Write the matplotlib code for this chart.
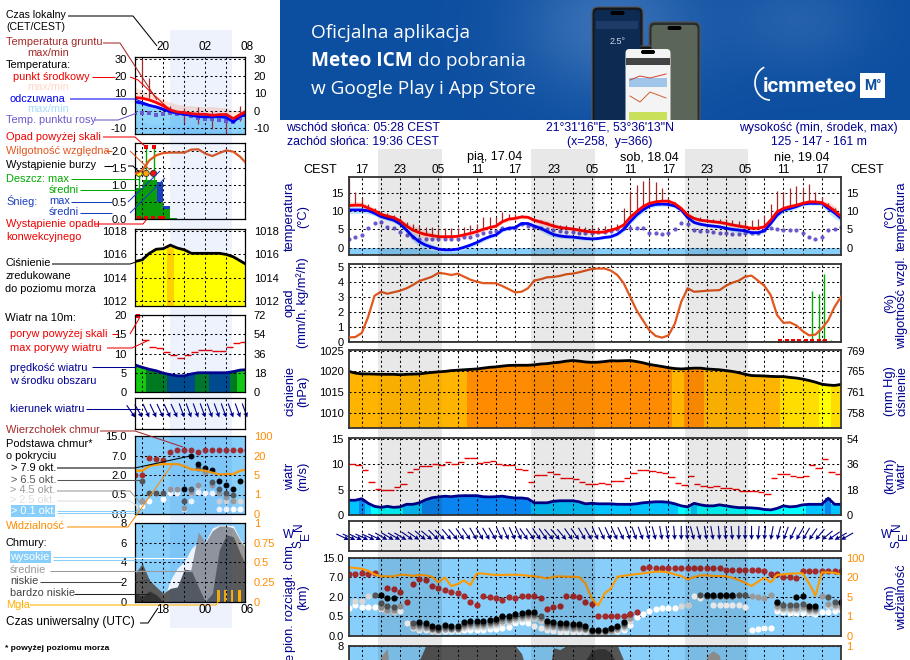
#!/usr/bin/env python3
"""Meteogram page: legend column on the left, 78 h forecast on the right."""
import numpy as np
import matplotlib
matplotlib.use("Agg")
import matplotlib.pyplot as plt
from matplotlib.patches import Arc, FancyBboxPatch, Rectangle

plt.rcParams["font.family"] = ["Liberation Sans", "DejaVu Sans"]
W, H = 910, 660
n = np.nan

# ---- main forecast, hourly from 15:00 CEST on 16.04
temp_mid = [11.5,11.6,11.6,10.8,10.1,9.1,8.6,8.2,7.3,5.9,4.8,4.1,3.6,3.3,3.0,3.0,3.0,3.1,3.5,3.9,
            4.4,5.0,5.5,5.9,7.1,7.8,8.0,8.4,8.3,7.5,7.0,6.5,5.9,5.5,5.3,5.1,4.8,4.5,4.3,4.2,
            4.3,4.8,5.3,6.2,8.3,9.8,11.2,12.1,12.5,12.7,12.7,12.0,10.7,8.9,8.0,7.5,7.3,7.1,6.9,6.6,
            6.2,5.9,5.6,5.3,5.3,5.7,7.5,9.8,10.7,11.2,11.6,12.1,12.5,12.5,12.3,11.3,10.1,8.5]
temp_felt = [10.3,10.3,10.3,10.1,9.4,8.5,8.0,7.5,6.5,4.8,3.0,1.6,0.7,0.1,-0.4,-0.6,-0.6,-0.4,0.1,0.7,
             1.4,2.3,3.0,3.5,4.8,5.3,5.5,6.6,6.6,5.9,5.3,4.4,3.6,3.2,3.0,2.9,2.7,2.5,2.4,2.5,
             2.8,3.0,3.7,5.0,7.1,8.9,10.3,11.4,11.8,11.9,11.8,11.4,10.3,8.2,6.9,6.4,6.1,5.9,5.7,5.3,
             5.0,4.8,4.6,4.1,4.1,4.6,6.6,8.9,10.3,10.7,11.2,11.9,12.1,12.1,12.1,10.7,9.5,8.0]
temp_dew = [2.5,2.8,3.5,5.3,6.8,6.9,5.7,5.3,4.4,3.5,2.8,2.5,2.4,2.3,2.4,2.4,2.4,2.5,2.8,2.8,
            3.5,3.9,4.4,4.6,5.3,5.3,5.5,6.6,5.9,5.7,5.3,5.0,4.8,4.6,4.4,4.4,4.1,4.1,3.9,4.2,
            4.3,4.5,5.1,5.3,5.3,5.3,5.3,4.1,3.9,3.6,4.1,5.1,6.8,6.5,4.8,4.6,4.5,4.3,4.1,3.9,
            3.7,3.7,3.9,3.9,4.1,4.8,5.3,5.0,4.8,4.8,4.8,3.9,3.0,2.5,3.0,4.8,5.0,5.7]
temp_ground = [19,15.3,13.5,12,10.8,10,9.5,9,8,7,6.4,5.9,5.7,5.6,5.5,5.5,5.5,5.5,5.7,6.2,
               6.5,8.3,8.3,8.3,9.8,9.3,9.3,8.9,8.5,8.0,7.5,7.0,6.7,6.3,6.1,6,5.8,5.7,5.6,5.6,
               5.8,6,6.5,10.7,15.5,17,18.2,18.5,17.8,16.4,13.5,12.5,11,9.5,8.5,8.3,8,7.8,7.8,7.7,
               7.5,7.3,7,7.5,7.7,8.9,12,15.5,15.3,16.2,16.8,16.2,17.3,15.3,13.9,12.1,10.7,9.8]
temp_spread = [1.0,1.0,0.9,0.8,0.7,0.6,0.6,0.6,0.7,0.9,1.2,1.3,1.0,0.8,0.6,0.5,0.5,0.5,0.6,0.7,
               0.7,0.6,0.5,0.5,0.5,0.5,0.4,0.5,0.5,0.6,0.8,0.9,0.8,0.6,0.5,0.5,0.5,0.5,0.4,0.4,
               0.4,0.4,0.5,0.6,0.7,0.8,0.8,0.7,0.6,0.6,0.5,0.5,0.6,0.6,0.5,0.4,0.4,0.4,0.4,0.5,
               0.6,0.7,0.7,0.7,0.6,0.5,0.5,0.7,0.8,0.7,0.6,0.5,0.5,0.5,0.6,1.2,1.4,1.0]
rh = [53,53.3,56,66.7,80.7,83.3,82,83,84,85.6,87.8,90.4,91.8,93.3,95.8,95.3,94.4,95.3,93.3,91.3,
      90,89,89,88.9,87.1,85,82.9,83.3,85.6,90.7,91.6,92.9,93.1,93.8,94.9,95.3,96.2,97.3,98.4,98.7,
      98.7,97.3,94.4,88.9,80,71.1,64.4,57.8,54,52.9,54.4,62.2,76.7,85.6,83.3,83.6,84,84.2,84.4,87.3,
      89.3,90.7,93.3,94,90.7,87.3,81.1,67.8,62.7,63,61,57.3,54.4,54.9,58.9,64.4,73.3,80]
rain_hours = [71.5, 72.4, 73.5, 74.4, 75.5]
rain_max = [0.2, 3.4, 3.15, 4.5, 0.15]
conv_hours = [67.5, 68.5, 69.5, 70.5, 71.5, 72.5, 73.5, 74.5]
press = [1020,1019.6,1019.4,1019.4,1019.35,1019.3,1019.3,1019.3,1019.2,1019.3,1019.35,1019.4,1019.6,1019.76,1019.9,1020,1020.2,1020.3,1020.4,1020.5,
         1020.6,1020.8,1021,1021.1,1021.3,1021.45,1021.5,1021.5,1021.5,1021.6,1021.8,1021.9,1022.1,1022.25,1022.5,1022.65,1022.5,1022.3,1022.2,1022.25,
         1022.4,1022.6,1022.55,1022.6,1022.65,1022.4,1022.1,1021.7,1021.45,1021.2,1020.9,1020.7,1020.6,1020.7,1020.8,1020.8,1020.6,1020.5,1020.4,1020.2,
         1020,1019.7,1019.3,1019,1018.95,1018.9,1018.8,1018.75,1018.75,1018.55,1018.4,1018.15,1017.8,1017.4,1016.9,1016.7,1016.6,1016.85]
# colour class of each pressure column: 0 yellow, 1 gold, 2 amber, 3 orange
press_class = [2]*19 + [3]*32 + [2]*2 + [3]*3 + [2]*12 + [1]*6 + [0]*2 + [1]*2
wind = [2.9,2.9,3.2,2.3,1.7,1.5,1.7,1.5,1.6,2.1,2.1,2.4,3,3.4,3.55,3.7,3.6,3.75,3.8,3.8,
        3.8,3.6,3.55,3.6,3.7,3.5,3.35,3.35,3.2,2.4,2.4,2.4,2.7,2.8,2.8,2.8,2.6,2.2,2.3,2.2,
        2.2,2.2,2.1,2.1,2.1,2.2,2.4,2.5,2.6,2.6,2.5,2.2,1.8,1.6,2.3,2,1.8,1.8,2,1.8,
        1.6,1.45,1.45,1.4,1.3,1.1,1,1.3,1.8,1.6,1.7,2,2.1,2.1,2.1,3.3,2.1,2.1]
gust = [10,9.8,8.8,6.5,5.1,4.9,4.9,5.5,6,8.4,9,9.6,9.6,10,9.8,10.4,10.1,10.5,11.2,11.2,
        10.2,10.5,10.6,10.1,9.8,9.8,9,8.8,6.5,7.9,7.8,8.4,8,7.2,7.2,7,6.4,6.1,6.1,6.3,
        6.1,6.7,6.7,7.3,8.2,8.8,8.8,8.6,8.4,8.2,7.4,6.3,5.9,7.6,6.1,5.7,5.5,5.7,5.3,5.3,
        5.1,4.8,4.7,4.7,4.5,4.1,7.2,8,8,7.6,7.4,7.6,9.8,9.2,11,8.5,8]
wind_from = [295,295,295,295,295,295,300,300,300,300,305,305,310,310,315,315,320,320,325,325,
             330,330,330,330,335,335,335,335,325,325,325,325,320,320,320,325,325,330,330,335,
             335,335,335,335,340,340,340,345,345,350,350,355,0,355,345,345,350,350,355,355,
             355,0,0,0,5,5,10,15,20,25,30,30,35,40,50,55,60,60]
# cloud base and visibility use the panel's stepped scale, 1 unit per labelled level
base_levels = ["0.0", "0.5", "2.0", "7.0", "15.0"]
vis_levels = ["0", "1", "5", "20", "100"]
cloud_top = [3.16,3.18,3.23,3.18,3.21,n,2.44,2.39,2.27,1.72,2.68,2.90,2.85,2.58,2.44,2.34,2.25,2.22,2.04,1.72,
             1.56,2.04,2.01,1.92,1.82,2.01,1.92,2.04,2.04,2.03,1.92,1.37,1.46,1.55,2.04,2.04,2.01,1.72,1.63,1.03,
             1.03,1.01,1.01,1.03,1.10,1.20,3.47,3.54,3.51,3.51,3.51,3.47,3.51,3.51,3.51,3.51,3.51,3.47,3.47,3.40,
             3.40,3.40,3.40,3.40,3.37,3.33,3.16,3.16,3.04,3.02,2.96,3.33,3.33,3.33,3.33,3.33,3.33,3.33]
base_79 = [n,n,n,n,n,2.10,1.96,1.96,n,n,n,.72,.64,.50,.43,.53,.48,.48,.69,.76,
           .76,.76,.82,.86,1.0,1.03,1.1,1.19,1.2,1.2,n,.76,.72,.64,.64,.60,.60,.52,.31,.29,
           .29,.38,.52,.72,n,n,n,n,n,n,n,n,n,n,n,n,2.1,2.1,2.1,2.1,
           2.1,n,n,n,n,n,n,1.75,n,n,1.98,2.05,1.53,1.51,n,n,n,1.72]
base_65 = [n,n,n,n,2.10,1.67,1.55,1.50,n,n,.64,.62,.55,.42,.36,.44,.40,.40,.60,.66,
           .66,.66,.72,.76,.90,.93,1.0,1.08,1.10,1.10,1.03,.66,.62,.55,.55,.50,.50,.42,.25,.24,
           .24,.32,.44,.62,1.1,n,n,n,n,n,n,n,n,n,n,2.1,2.05,2.05,2.05,2.05,
           2.05,2.1,2.1,n,n,n,n,1.67,1.6,1.6,1.6,1.65,1.45,1.42,n,2.0,1.75,1.68]
base_45 = [n,n,n,n,n,1.5,1.35,1.35,1.55,n,.5,.52,.45,.36,.30,.36,.33,.33,.5,.55,
           .55,.56,.62,.66,.78,.82,.9,.98,1.0,1.0,.9,.56,.52,.46,.46,.40,.40,.33,.2,.2,
           .2,.25,.36,.5,.9,n,n,n,n,n,n,n,n,n,n,n,n,n,n,n,
           n,n,n,2.05,2.0,1.95,2.08,1.55,1.45,1.45,1.45,1.5,1.3,1.3,2.05,1.65,1.6,1.55]
base_25 = [n,1.8,1.8,2.04,n,1.45,1.25,1.2,n,n,.44,.42,.38,.30,.26,.30,.28,.28,.42,.46,
           .46,.46,.52,.56,.68,.72,.8,.88,.9,.85,.75,.46,.44,.38,.38,.34,.34,.28,.2,.2,
           .2,.22,.3,.42,.75,n,n,n,n,n,n,n,1.55,1.6,n,n,n,n,n,n,
           n,n,n,n,n,n,n,1.45,1.35,1.35,1.35,1.4,1.22,1.22,n,1.55,1.5,1.45]
base_01 = [1.41,1.58,1.49,1.49,1.49,1.37,1.36,1.32,1.27,.64,.38,.29,.27,.24,.21,.22,.22,.22,.27,.29,
           .29,.31,.33,.34,.41,.46,.64,.69,.64,.50,.41,.29,.24,.21,.21,.21,.21,.17,.22,.22,
           .22,.24,.26,.29,.55,.98,1.12,1.27,1.37,1.41,1.41,1.41,n,1.58,2.04,1.96,n,1.6,1.6,1.6,
           1.6,1.6,1.49,.29,.34,.38,.41,1.27,1.2,1.15,1.15,1.15,1.15,1.12,1.2,1.24,1.27,1.32]
visibility = [3.52,3.49,3.45,3.35,3.16,3.06,3.06,3.06,3.14,3.13,3.08,3.13,3.11,3.04,2.75,3.0,2.56,2.66,2.85,2.61,
              3.21,3.2,3.16,3.13,3.13,3.14,3.14,3.13,3.09,3.06,3.02,2.94,3.04,3.06,3.04,3.04,3.02,2.7,1.92,1.55,
              2.18,2.44,3.04,3.09,3.13,3.18,3.21,3.26,3.3,3.3,3.26,3.16,3.08,2.9,3.02,3.11,3.11,3.08,3.08,3.06,
              2.99,2.87,2.73,2.56,2.78,2.99,2.75,3.13,3.16,3.2,3.21,3.21,2.7,2.06,3.26,3.26,3.24,3.16]
mid_hours = [4, 5, 6, 7, 55, 56, 57, 58, 59, 60, 61]
mid_cloud = [0, 6.9, 7.7, 0, 0, 7.0, 7.5, 7.0, 0, 6.6, 0]
low_hours = [10, 11, 12, 26, 27, 28, 30, 31, 32, 33, 34, 42, 43, 44]
low_cloud = [0, 6.5, 8, 8, 7.2, 5, 0, 4, 7.8, 7.6, 8, 8, 6.5, 0]
vlow_hours = [36, 37, 38, 39, 40, 41, 42, 43]
vlow_cloud = [0, 6.5, 7.5, 7.7, 7.7, 7.3, 6, 0]

hours = np.arange(len(temp_mid))
night_bands = [(378.3, 441.7), (531, 595), (685, 747.7)]
hour_ticks = [2, 5, 8, 11, 14, 17, 20, 23, 26, 29, 32, 35, 38, 41, 44, 47, 50, 53, 56, 59, 62, 65, 68, 71, 74, 77]
hour_labels = ["17", "", "23", "", "05", "", "11", "", "17", "", "23", "", "05", "", "11", "", "17", "", "23", "", "05", "", "11", "", "17", ""]

# ---- legend column, hourly from 16:00
leg_hours = np.arange(17)
leg_mid = [7.6,7.3,6.3,4.8,2.9,0.6,-0.6,-1,-1.5,-1.9,-1.9,-2.5,-2.1,-2,-4.4,-2,0]
leg_felt = [5.2,4.4,3.2,2.3,1,-0.4,-1.3,-1.9,-2.5,-3.2,-3.4,-3.4,-3.2,-3.8,-6.3,-2.9,-2.3]
leg_mid_max = [13.4,11.5,9.6,8.6,6.7,4.8,3.8,3,3,2.5,2.5,2.5,2,2,0,0,2]
leg_felt_min = [-5,-6,-7,-8,-8,-8,-9,-9,-8,-10,-10,-11,-11,-11,-13,-11,-8]
leg_dew = [-1,-1,-1.4,-2.1,-2,-1,-1.5,-2,-3,-4,-4.5,-4.6,-5,-5.5,-6.5,-4,-3]
leg_ground_hi = [n,30,19,n,n,2.9,n,1.9,n,2,n,0,n,-2,n,2.9,n]
leg_ground_lo = [n,15,7.6,n,n,-2,n,-6.7,n,-7.6,n,-10.5,n,-12.4,n,-5.7,n]
leg_rh = [80.6,82.8,89.5,92.9,94.4,94.7,94.7,94.7,96.7,96.9,94,92.4,94.4,96.2,95.3,91.8,86.8]
leg_bar_left = [0, 1.15, 3.05, 4.0, 5.0]
leg_bar_width = [1.15, 1.9, 0.95, 1.0, 1.0]
leg_rain = [0.93, 1.15, 0.5, 0.31, 0.03]
leg_snow = [0.93, 1.15, 1.08, 0.40, 0.03]
leg_press = [1015.4,1015.55,1016.1,1016.45,1016.5,1016.8,1016.55,1016.4,1016.1,1016.1,1016.1,1016.1,1016.1,1016,1015.8,1015.45,1015.1]
leg_wind = [7,6.4,5.9,5.5,4.9,4.5,4.2,4.2,4.7,5,5,5,5,5,5.3,5.7,5.8]
leg_wind_class = [2,2,1,1,1,0,0,0,0,1,1,0,0,0,1,2,2]
leg_gust_hours = [1,2,3,4,5,6,7,8,9,10,11,12,13,14,15]
leg_gust = [13.5,11.8,11.3,10.5,9.5,8.8,9.7,10.5,10.8,10.8,10.6,10.6,11.7,12.7,12.9]
leg_wind_from = [325,330,335,335,335,335,335,340,340,340,340,340,340,340,340,340,340]
leg_top = [2.0,2.0,2.85,2.82,2.77,3.2,3.3,3.3,3.3,3.2,3.3,3.3,3.3,3.3,3.3,3.3,3.3]
leg_79 = [n,n,n,n,n,n,n,1.26,2.97,2.55,2.37,2.25,1.69,1.48,1.26,1.69,n]
leg_65 = [n,1.7,1.1,1.1,1.1,n,n,.67,1.26,2.34,n,1.65,1.26,1.1,.97,n,n]
leg_45 = [n,.68,n,n,n,1.26,1.26,.3,1.15,1.48,2.17,1.48,1.1,.88,.68,n,1.65]
leg_25 = [.4,n,n,n,n,1.26,1.26,n,1.1,1.4,n,n,.68,.68,.68,.68,n]
leg_01 = [n,.4,.68,n,.75,1.1,1.1,.24,.68,1.15,1.1,1.1,.26,.24,.24,.24,n]
leg_vis = [2.22,2.22,2.46,2.53,2.56,2.56,2.56,2.46,2.29,2.26,2.22,2.12,2.03,2.05,2.05,2.22,2.29]
leg_high = [0,0,0,0,0,2.2,3.4,4.1,5.4,6.1,6.1,7.5,7.8,7.8,7.7,6.3,5.5]
leg_medium = [0,0,0,0,0,0,0,0,3.5,7.1,6.0,7.2,7.7,7.7,7.5,6.2,5.3]
leg_low = [2.9,3.9,2.2,1.5,0.85,1.36,1.5,3.3,3.2,1.5,0,0.85,5.3,6.8,6.6,4.9,3.4]
leg_vlow = [0.9,0.5,1.1,0.7,0,0,0,0,0,0,0,0,0,0,0,0,0]
leg_fog_hours = [11.9, 12.9, 13.8, 14.9]
leg_fog = [0.15, 0.15, 0.15, 0.15]

NAVY = "#000090"
SKY = "#87cefa"
GRID = dict(color="black", lw=0.75, ls=(0, (2, 2.5)))
FS = 8.85
TICK = 8.0
LEG = 7.9

fig = plt.figure(figsize=(W / 100, H / 100), dpi=100, facecolor="white")


def px_axes(x0, y0, x1, y1, zorder=2):
    return fig.add_axes([x0 / W, 1 - y1 / H, (x1 - x0) / W, (y1 - y0) / H], zorder=zorder)


def panel(box, xlim, ylim, xticks, yticks, ylabels=None, right=None, right_color="black", pad=6, rpad=6, edge="black", lw=0.9, zorder=2):
    ax = px_axes(*box, zorder=zorder)
    ax.set_xlim(*xlim)
    ax.set_ylim(*ylim)
    ax.patch.set_alpha(0)
    ax.set_xticks(xticks, [""] * len(xticks))
    ax.set_yticks(yticks, ylabels if ylabels is not None else [str(t) for t in yticks])
    ax.tick_params(length=0, labelsize=TICK, pad=pad)
    ax.grid(True, **GRID)
    ax.set_axisbelow(False)
    for s in ax.spines.values():
        s.set_color(edge)
        s.set_linewidth(lw)
        s.set_zorder(8)
    tw = ax.twinx()
    tw.set_ylim(*ylim)
    tw.patch.set_alpha(0)
    tw.set_yticks(yticks, right if right is not None else [""] * len(yticks))
    tw.tick_params(length=0, labelsize=TICK, pad=rpad, labelcolor=right_color)
    for s in tw.spines.values():
        s.set_visible(False)
    return ax, tw


def main_panel(box, ylim, yticks, **kw):
    return panel(box, (0, 77), ylim, hour_ticks, yticks, pad=4, rpad=4, edge="#333333", lw=1.3, **kw)


def base_dots(ax, x, top, s79, s65, s45, s25, s01, size):
    ax.scatter(x, s01, s=size, c="white", lw=0, zorder=3)
    ax.scatter(x, s25, s=size, c="#d8d8d8", lw=0, zorder=3.1)
    ax.scatter(x, s45, s=size, c="#999999", lw=0, zorder=3.2)
    ax.scatter(x, s65, s=size, c="#555555", lw=0, zorder=3.3)
    ax.scatter(x, s79, s=size, c="black", lw=0, zorder=3.4)
    ax.scatter(x, top, s=size, c="#a52a2a", lw=0, zorder=3.5)


def arrows(ax, x, from_deg, length):
    rad = np.deg2rad(np.asarray(from_deg) + 180)
    ax.quiver(x, [0.37] * len(x), length * np.sin(rad), length * np.cos(rad), angles="uv", units="dots",
              scale=1, scale_units="dots", pivot="tip", color="#00008b", width=1.1, headwidth=4.5,
              headlength=4.5, headaxislength=4, clip_on=False, zorder=3)


# ---- main panels
ax, tw = main_panel((349, 177, 841, 255), (-2, 19.3), [0, 5, 10, 15], right=["0", "5", "10", "15"])
ax.axhspan(-2, 0, color=SKY, lw=0, zorder=1)
mid, felt, spread = np.array(temp_mid), np.array(temp_felt), np.array(temp_spread)
ax.fill_between(hours, mid - spread, mid + spread, color="#ffd9d2", lw=0, zorder=1.1)
ax.fill_between(hours, felt - spread, felt + spread, color="#bfe6ff", lw=0, zorder=1.2)
ax.vlines(hours, mid, temp_ground, color="#a52a2a", lw=0.9, zorder=3)
ax.scatter(hours, temp_dew, s=9, c="#6a5acd", lw=0, zorder=3.2)
ax.plot(hours, felt, color="#0000ff", lw=2, zorder=3.4)
ax.plot(hours, mid, color="#ff0000", lw=2, zorder=3.5)
ax.xaxis.tick_top()
ax.set_xticks(hour_ticks, hour_labels)
ax.tick_params(axis="x", labelsize=8.5, pad=0.5)

ax, tw = main_panel((349, 264, 841, 342), (0, 5.17), [0, 1, 2, 3, 4, 5], right=["50", "60", "70", "80", "90", "100"], right_color="#e2571e")
tw.set_ylim(50, 101.7)
tw.set_yticks([50, 60, 70, 80, 90, 100])
ax.vlines(rain_hours, 0, rain_max, color="#00aa00", lw=1, zorder=3)
ax.axhline(0, color="#118811", lw=1.2, zorder=3)
ax.scatter(conv_hours, [0.05] * len(conv_hours), s=7, marker="s", c="#ee0000", lw=0, zorder=4, clip_on=False)
tw.plot(hours, rh, color="#e2571e", lw=1.6, zorder=3)

# the pressure panels stay above the shading, their fills keep their colour
ax, tw = main_panel((349, 350, 841, 428.3), (1006.2, 1025.2), [1010, 1015, 1020, 1025], right=["758", "761", "765", "769"], zorder=6)
press_palette = ["#ffff00", "#ffdd00", "#ffb400", "#ff8c00"]
ax.bar(hours, np.array(press) - 1006.2, bottom=1006.2, width=1.0, color=[press_palette[c] for c in press_class], lw=0, zorder=1)
for x0, x1 in night_bands:
    ax.axvspan((x0 - 349) / 6.39, (x1 - 349) / 6.39, ymax=0.72, color="black", alpha=0.03, lw=0, zorder=1.5)
ax.plot(hours, press, color="black", lw=2, zorder=3)

ax, tw = main_panel((349, 437.7, 841, 515), (0, 15.2), [0, 5, 10, 15], right=["0", "18", "36", "54"])
wind_colors = ["#00ffff" if v < 2.05 else "#00c4ff" if v < 3 else "#0a84ee" for v in wind]
ax.bar(hours, wind, width=1.0, color=wind_colors, lw=0, zorder=1)
ax.hlines(gust, hours[:-1], hours[:-1] + 1, color="#ee0000", lw=1, zorder=3)
ax.plot(hours, wind, color="#00008b", lw=2, zorder=3)

ax, tw = main_panel((349, 521, 841, 551), (0, 1), [])
arrows(ax, hours, wind_from, 14)

ax, tw = main_panel((349, 557.7, 841, 635.7), (0, 4.02), [0, 1, 2, 3, 4], ylabels=base_levels, right=vis_levels, right_color="#ff8c00")
ax.axhspan(0, 4.02, color=SKY, lw=0, zorder=1)
base_dots(ax, hours, cloud_top, base_79, base_65, base_45, base_25, base_01, 20)
ax.plot(hours, visibility, color="#ff9900", lw=1.5, zorder=4)

ax, tw = main_panel((349, 645.7, 841, 724), (0, 8), [8], right=["1"], right_color="#ff8c00")
ax.axhspan(0, 8, color=SKY, lw=0, zorder=1)
ax.fill_between(mid_hours, 0, mid_cloud, color="#999999", lw=0, zorder=1.2)
ax.fill_between(low_hours, 0, low_cloud, color="#555555", lw=0, zorder=1.3)
ax.fill_between(vlow_hours, 0, vlow_cloud, color="#333333", lw=0, zorder=1.4)

# ---- legend panels
lx = (0, 15.71)
lt = [1, 4, 7, 10, 13]
ax, tw = panel((135.3, 57, 245.3, 134), lx, (-13.2, 30.9), lt, [-10, 0, 10, 20, 30], right=["-10", "0", "10", "20", "30"])
ax.axhspan(-13.2, 0, color=SKY, lw=0, zorder=1)
ax.fill_between(leg_hours, leg_mid, leg_mid_max, color="#ffe3d8", lw=0, zorder=1.1)
ax.fill_between(leg_hours, leg_felt, leg_felt_min, color="#8fd4fb", lw=0, zorder=1.2)
ax.vlines(leg_hours, leg_ground_lo, leg_ground_hi, color="#a52a2a", lw=0.9, zorder=3)
ax.scatter(leg_hours, leg_dew, s=8, marker="s", c="#6a5acd", lw=0, zorder=3.2)
ax.plot(leg_hours, leg_felt, color="#0000ff", lw=2, zorder=3.4)
ax.plot(leg_hours, leg_mid, color="#ff0000", lw=2, zorder=3.5)

ax, tw = panel((135.3, 143.3, 245.3, 219.5), lx, (0, 2.215), lt, [0, 0.5, 1, 1.5, 2], ylabels=["0.0", "0.5", "1.0", "1.5", "2.0"], right=["50", "61", "73", "84", "96"], right_color="#e2571e")
tw.set_ylim(50, 100.9)
tw.set_yticks([50, 61.5, 73, 84.5, 96])
ax.bar(leg_bar_left, leg_snow, width=leg_bar_width, align="edge", color="#1a3fc0", lw=0, zorder=1)
ax.bar(leg_bar_left, leg_rain, width=leg_bar_width, align="edge", color="#0a9e0a", lw=0, zorder=1.1)
ax.vlines([0.55, 1.55, 2.6], [0.9, 1.1, 1.1], [1.34, 2.1, 2.1], color="#00aa00", lw=1, zorder=3)
ax.scatter([0.55, 1.55, 2.6], [1.34, 1.34, 1.34], s=20, c=["#ffee00", "#ffa500", "#ee1111"], edgecolors="#333333", lw=0.6, zorder=4)
ax.scatter([1.55, 2.6], [2.1, 2.1], s=9, marker="s", c="#ee0000", lw=0, zorder=4)
ax.scatter([0.5, 1.5, 2.5, 3.5, 4.0], [0.03] * 5, s=8, marker="s", c="#ee0000", lw=0, zorder=4, clip_on=False)
tw.plot(leg_hours, leg_rh, color="#e2571e", lw=1.6, zorder=3)

ax, tw = panel((135.3, 229.3, 245.3, 306), lx, (1011.6, 1018.15), lt, [1012, 1014, 1016, 1018], right=["1012", "1014", "1016", "1018"], zorder=6)
ax.bar(leg_hours, np.array(leg_press) - 1011.6, bottom=1011.6, width=1.0, color=["#ffff00"] * 5 + ["#ffd000"] + ["#ffff00"] * 11, lw=0, zorder=1)
ax.plot(leg_hours, leg_press, color="black", lw=2, zorder=3)

ax, tw = panel((135.3, 315, 245.3, 392), lx, (0, 20), lt, [0, 5, 10, 15, 20], right=["0", "18", "36", "54", "72"])
band = ["#004a8a", "#007a20", "#14c814"]
ax.bar(leg_hours, leg_wind, width=1.0, color=[band[c] for c in leg_wind_class], lw=0, zorder=1)
ax.hlines(leg_gust, leg_gust_hours, np.array(leg_gust_hours) + 1, color="#ee0000", lw=1, zorder=3)
ax.scatter([0.45], [19.8], s=8, marker="s", c="#ee0000", lw=0, zorder=4, clip_on=False)
ax.plot(leg_hours, leg_wind, color="#00008b", lw=2, zorder=3)

ax, tw = panel((135.3, 398, 245.3, 429), lx, (0, 1), lt, [])
arrows(ax, leg_hours, leg_wind_from, 15)

ax, tw = panel((135.3, 436, 245.3, 514), lx, (0, 4), lt, [0, 1, 2, 3, 4], ylabels=base_levels, right=vis_levels, right_color="#ff8c00")
ax.axhspan(0, 4, color=SKY, lw=0, zorder=1)
base_dots(ax, leg_hours, leg_top, leg_79, leg_65, leg_45, leg_25, leg_01, 18)
ax.plot(leg_hours, leg_vis, color="#ff9900", lw=1.6, zorder=4)

ax, tw = panel((135.3, 523, 245.3, 601.7), lx, (0, 8), lt, [0, 2, 4, 6, 8], right=["0", "0.25", "0.5", "0.75", "1"], right_color="#ff8c00")
ax.axhspan(0, 8, color=SKY, lw=0, zorder=1)
ax.fill_between(leg_hours, 0, leg_high, color="white", lw=0, zorder=1.1)
ax.fill_between(leg_hours, 0, leg_medium, color="#999999", lw=0, zorder=1.2)
ax.fill_between(leg_hours, 0, leg_low, color="#5a5a5a", lw=0, zorder=1.3)
ax.fill_between(leg_hours, 0, leg_vlow, color="#333333", lw=0, zorder=1.4)
ax.bar(leg_fog_hours, np.array(leg_fog) * 8, width=0.4, color="#ffb000", lw=0, zorder=2)

# ---- day/night shading sits over the other panels so the fills darken
shade = fig.add_axes([0, 0, 1, 1], zorder=5)
shade.set_xlim(0, W)
shade.set_ylim(H, 0)
shade.axis("off")
shade.patch.set_alpha(0)
for x0, x1 in night_bands:
    shade.add_patch(Rectangle((x0, 149), x1 - x0, H - 149, color="black", alpha=0.09, lw=0))
shade.add_patch(Rectangle((170, 30), 61.7, 598, color="#0050dc", alpha=0.07, lw=0))

# ---- page furniture in pixel coordinates
page = fig.add_axes([0, 0, 1, 1], zorder=10)
page.set_xlim(0, W)
page.set_ylim(H, 0)
page.axis("off")
page.patch.set_alpha(0)


def T(x, y, s, color="black", size=LEG, ha="left", **kw):
    page.text(x, y, s, color=color, fontsize=size, ha=ha, va="center", **kw)


def L(color, *pts, lw=0.75):
    xs, ys = zip(*pts)
    page.plot(xs, ys, color=color, lw=lw, solid_capstyle="butt")


# banner
yy, xx = np.mgrid[0:120, 0:630]
glow = 0.55 * np.exp(-((xx - 330) / 90.0) ** 2 - ((yy - 25) / 70.0) ** 2) + 0.3 * np.exp(-((xx - 520) / 70.0) ** 2 - ((yy - 20) / 50.0) ** 2)
c0, c1 = np.array([12, 78, 160]), np.array([92, 140, 200])
banner = (c0 + (c1 - c0) * glow[..., None]) / 255
page.imshow(banner, extent=(280, 910, 120, 0), aspect="auto", zorder=0)
page.set_xlim(0, W)
page.set_ylim(H, 0)
banner_clip = Rectangle((280, 0), 630, 120, transform=page.transData)


def bn(patch):
    page.add_patch(patch)
    patch.set_clip_path(banner_clip)


for x0, y0, wd, fc, sc in [(592, 7, 51, "#15181d", "#0d2a52"), (649, 22, 51, "#2a2d30", "#5c6658"), (623, 46, 50, "#15181d", "#f4f4f4")]:
    bn(FancyBboxPatch((x0, y0), wd, 130 - y0, boxstyle="round,pad=0,rounding_size=6", fc=fc, ec="#555555", lw=0.8, zorder=1))
    bn(FancyBboxPatch((x0 + 2.5, y0 + 3), wd - 5, 130 - y0, boxstyle="round,pad=0,rounding_size=4", fc=sc, ec="none", zorder=1.1))
    bn(FancyBboxPatch((x0 + wd / 2 - 7, y0 + 4), 14, 4, boxstyle="round,pad=0,rounding_size=2", fc="black", ec="none", zorder=1.2))
bn(Rectangle((626, 58), 44, 7, fc="#444444", lw=0, zorder=1.2))
bn(Rectangle((629, 78), 38, 9, fc="#9fc5e8", lw=0, zorder=1.2))
bn(Rectangle((629, 112), 38, 8, fc="#c8e05a", lw=0, zorder=1.2))
page.plot([630, 640, 650, 666], [80, 76, 78, 74], color="#d04030", lw=0.7, zorder=1.3)
page.plot([630, 640, 650, 666], [96, 102, 92, 98], color="#d06030", lw=0.7, zorder=1.3)
bn(Rectangle((596, 21), 42, 8, fc="#1e3a66", lw=0, zorder=1.2))
page.text(618, 41, "2.5°", color="#cfd8e6", fontsize=6.5, ha="center", va="center", zorder=2)
bn(Rectangle((860, 73), 25, 25, fc="white", lw=0, zorder=1.2))
page.text(872.5, 86, "M°", color="#0c4ea0", fontsize=10, fontweight="bold", ha="center", va="center", family="Roboto", zorder=2)
page.text(763, 86, "icmmeteo", color="white", fontsize=15, fontweight="bold", ha="left", va="center", family="Roboto", zorder=2)
page.add_patch(Arc((770, 83), 30, 34, theta1=90, theta2=250, color="white", lw=1.2, zorder=2))
OS = dict(family="Open Sans", color="white", fontsize=13.7, va="center", zorder=2)
page.text(311, 33, "Oficjalna aplikacja", **OS)
page.text(311, 61, "Meteo ICM", fontweight="bold", **OS)
page.text(418, 61, "do pobrania", **OS)
page.text(311, 89, "w Google Play i App Store", **OS)

# location header
T(286, 128, "wschód słońca: 05:28 CEST", NAVY, size=FS)
T(287, 142, "zachód słońca: 19:36 CEST", NAVY, size=FS)
T(610, 128, "21°31'16\"E, 53°36'13\"N", NAVY, ha="center", size=FS)
T(610, 142, "(x=258,  y=366)", NAVY, ha="center", size=FS)
T(818, 128, "wysokość (min, środek, max)", NAVY, ha="center", size=FS)
T(819, 142, "125 - 147 - 161 m", NAVY, ha="center", size=FS)
T(495, 157, "pią, 17.04", ha="center", size=9.1)
T(649, 157, "sob, 18.04", ha="center", size=9.1)
T(802, 157, "nie, 19.04", ha="center", size=9.1)
T(320, 170, "CEST", ha="center", size=9.1)
T(867, 170, "CEST", ha="center", size=9.1)


def side(x, y, s):
    T(x, y, s, NAVY, ha="center", rotation=90, size=9.3)


for x, y, s in [(290, 216, "temperatura"), (303, 216, "(°C)"), (290, 303, "opad"), (303, 303, "(mm/h, kg/m²/h)"),
                (290, 391, "ciśnienie"), (303, 391, "(hPa)"), (290, 476, "wiatr"), (303, 476, "(m/s)"),
                (290, 597, "pion. rozciągł. chm."), (303, 597, "(km)"), (290, 657, "e"),
                (890, 216, "(°C)"), (902, 216, "temperatura"), (890, 303, "(%)"), (902, 303, "wilgotność wzgl."),
                (890, 391, "(mm Hg)"), (902, 391, "ciśnienie"), (890, 476, "(km/h)"), (902, 476, "wiatr"),
                (890, 597, "(km)"), (902, 597, "widzialność")]:
    side(x, y, s)
for x0 in (0, 598):
    T(289 + x0, 535, "W", NAVY, ha="center", size=8.5)
    T(299 + x0, 527, "N", NAVY, ha="center", size=8.5, rotation=90)
    T(306 + x0, 536, "E", NAVY, ha="center", size=8.5, rotation=90)
    T(298 + x0, 544, "S", NAVY, ha="center", size=8.5, rotation=90)

# legend hour labels
for x, s in [(163, "20"), (205, "02"), (247, "08")]:
    T(x, 47, s, ha="center", size=8.5)
for x, s in [(163, "18"), (205, "00"), (247, "06")]:
    T(x, 610, s, ha="center", size=8.5)

RED, DRED, ORED, GRN, BLU, ORG = "#ee0000", "#a52a2a", "#e2571e", "#00aa00", "#1a3fc0", "#ff8c00"
T(6, 15, "Czas lokalny", size=7.6)
T(6, 27, "(CET/CEST)", size=7.6)
L("black", (68, 16), (133, 16), (157, 46))
T(6, 42, "Temperatura gruntu", DRED)
T(27, 53, "max/min", DRED)
L(DRED, (103, 43), (120, 43), (157, 100))
T(6, 65, "Temperatura:")
T(13, 77, "punkt środkowy", RED)
L(RED, (92, 77), (115, 77))
L(RED, (130, 77), (138, 80), (170, 110))
T(27, 87, "max/min", "#ffd8c8")
T(9, 99, "odczuwana", "#0000ee")
L("#0000ee", (70, 99), (135, 99), (165, 111))
T(27, 109, "max/min", "#a8dcfb")
T(6, 120, "Temp. punktu rosy", "#6a5acd")
L("#6a5acd", (94, 120), (118, 120), (137, 113))
T(6, 137, "Opad powyżej skali", RED)
L(RED, (103, 137), (135, 137), (146, 147))
T(6, 151, "Wilgotność względna", ORED)
L(ORED, (106, 151), (112, 151))
L(ORED, (130, 151), (150, 170))
T(6, 165, "Wystąpienie burzy")
L("black", (104, 166), (113, 166))
L("black", (128, 166), (133, 166), (139, 172))
T(6, 179, "Deszcz: max", GRN)
L(GRN, (71, 179), (139, 179), (139, 175))
T(49, 190, "średni", GRN)
L(GRN, (80, 190), (145, 190))
T(6, 201, "Śnieg:", BLU)
T(49, 201, "max", BLU)
L(BLU, (71, 202), (112, 202))
L(BLU, (128, 202), (160, 171))
T(49, 212, "średni", BLU)
L(BLU, (80, 213), (112, 213))
L(BLU, (130, 213), (165, 178))
T(6, 224, "Wystąpienie opadu", RED)
T(6, 237, "konwekcyjnego", RED)
L(RED, (95, 224), (143, 224), (147, 219))
T(5, 263, "Ciśnienie")
L("black", (52, 264), (130, 264), (136, 262))
T(5, 276, "zredukowane")
T(5, 289, "do poziomu morza")
T(5, 318, "Wiatr na 10m:", size=8.2)
T(10, 334, "poryw powyżej skali", RED)
L(RED, (112, 334), (118, 334))
L(RED, (130, 334), (140, 317))
T(10, 348, "max porywy wiatru", RED)
L(RED, (107, 348), (132, 348), (147, 341))
T(10, 368, "prędkość wiatru", NAVY)
L(NAVY, (92, 367), (136, 367))
T(10, 381, "w środku obszaru", NAVY)
T(10, 409, "kierunek wiatru", NAVY)
L(NAVY, (86, 409), (140, 409))
T(6, 430, "Wierzchołek chmur", DRED)
L(DRED, (100, 431), (135, 431), (183, 447))
T(6, 444, "Podstawa chmur*")
T(6, 456, "o pokryciu")
T(11, 468, "> 7.9 okt.")
L("black", (57, 468), (135, 468), (190, 456))
T(11, 480, "> 6.5 okt.", "#555555")
L("#555555", (57, 480), (143, 480))
T(10, 490, "> 4.5 okt.", "#999999")
L("#999999", (57, 491), (130, 491), (142, 505))
T(10, 500, "> 2.5 okt.", "#dddddd")
L("#dddddd", (57, 501), (130, 501), (137, 506))
page.add_patch(Rectangle((11, 505), 44, 12, fc=SKY, lw=0))
T(11, 511, "> 0.1 okt.", "white")
L(SKY, (57, 510.5), (135, 510.5))
L(SKY, (57, 513), (135, 513))
T(6, 526, "Widzialność", ORG)
L(ORG, (67, 527), (128, 527), (172, 465))
T(6, 543, "Chmury:")
page.add_patch(Rectangle((10, 551), 41, 12, fc=SKY, lw=0))
T(10, 557, "wysokie", "white")
L(SKY, (53, 557), (135, 557))
L(SKY, (53, 559.5), (135, 559.5))
L("white", (135, 558), (186, 558))
T(10, 570, "średnie", "#999999")
L("#999999", (50, 571), (192, 571))
T(10, 581, "niskie", "#444444")
L("#444444", (40, 582), (122, 582))
L("#444444", (135, 582), (150, 580))
T(10, 593, "bardzo niskie", "#444444")
L("#222222", (74, 594), (150, 594))
T(6, 605, "Mgła", "#ffb000")
L("#ffb000", (30, 605), (216, 605), (219, 600))
T(6, 622, "Czas uniwersalny (UTC)", size=8.6)
L("black", (140, 623), (148, 623), (158, 608))
T(5, 648, "* powyżej poziomu morza", size=6.1, fontweight="bold")

fig.savefig("out.png", dpi=100)
